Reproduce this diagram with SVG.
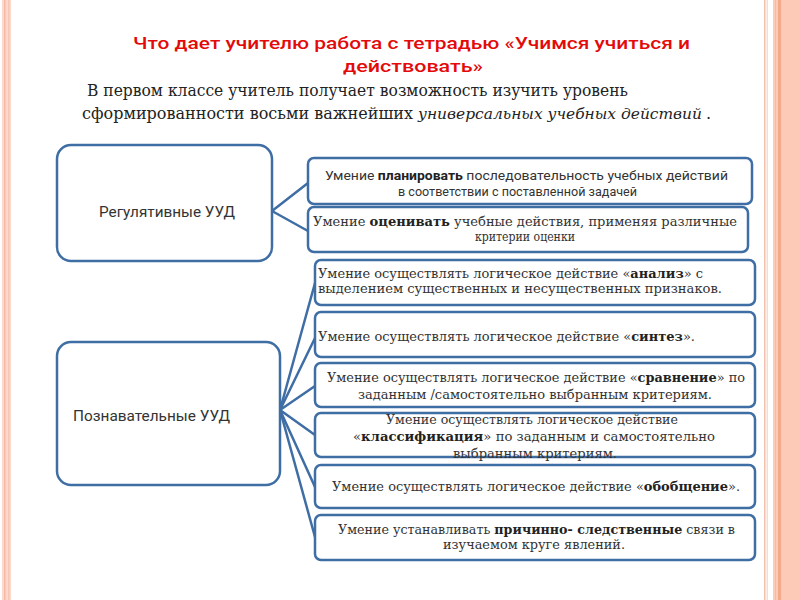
<svg xmlns="http://www.w3.org/2000/svg" width="800" height="600" viewBox="0 0 800 600">
<style>
.box{fill:#fff;stroke:#3f6ea5;stroke-width:2.5}
.big{fill:#fff;stroke:#3f6ea5;stroke-width:2.5}
.con line{stroke:#3f6ea5;stroke-width:2.5;stroke-linecap:round}
.sans{font-family:Roboto,"Noto Sans","DejaVu Sans",sans-serif;fill:#333}
.serif{font-family:"DejaVu Serif","Liberation Serif",serif;fill:#333;font-size:13px}
.b{font-weight:bold;fill:#222}
</style>
<rect width="800" height="600" fill="#fff"/>
<g id="border">
<rect x="2" y="0" width="9" height="600" fill="#fcd9cc"/>
<rect x="4" y="0" width="1.5" height="600" fill="#f6b9a3"/>
<rect x="8" y="0" width="1.5" height="600" fill="#f8c6b4"/>
<rect x="764" y="0" width="1.5" height="600" fill="#f3c0ae"/>
<rect x="766.5" y="0" width="1.5" height="600" fill="#fbdcd0"/>
<rect x="773" y="0" width="27" height="600" fill="#fdcab7"/>
<rect x="778" y="0" width="3" height="600" fill="#f5a98b"/>
<rect x="775" y="0" width="1" height="600" fill="#f8b9a1"/>
</g>
<g id="title" font-family="Roboto,'Noto Sans',sans-serif" font-size="17" font-weight="500" fill="#e30a0a" text-anchor="middle">
<text x="411.5" y="49" textLength="557" lengthAdjust="spacingAndGlyphs">Что дает учителю работа с тетрадью «Учимся учиться и</text>
<text x="413" y="72" textLength="140" lengthAdjust="spacingAndGlyphs">действовать»</text>
</g>
<g id="intro" font-family="'DejaVu Serif','Liberation Serif',serif" font-size="16" fill="#222">
<text x="87" y="96" textLength="541" lengthAdjust="spacingAndGlyphs">В первом классе учитель получает возможность изучить уровень</text>
<text x="82" y="119" textLength="331" lengthAdjust="spacingAndGlyphs">сформированности восьми важнейших</text>
<text x="418" y="119" font-size="15" font-style="italic" textLength="284" lengthAdjust="spacingAndGlyphs">универсальных учебных действий</text>
<text x="706" y="119">.</text>
</g>
<g class="con" id="connectors">
<line x1="272" y1="211" x2="308" y2="183"/>
<line x1="272" y1="211" x2="308" y2="231"/>
<line x1="280" y1="410" x2="315" y2="283"/>
<line x1="280" y1="410" x2="315" y2="338"/>
<line x1="280" y1="410" x2="315" y2="386"/>
<line x1="280" y1="410" x2="315" y2="435"/>
<line x1="280" y1="410" x2="315" y2="487"/>
<line x1="280" y1="410" x2="315" y2="537"/>
</g>
<g id="reg">
<rect class="big" x="57" y="145" width="215" height="116" rx="14"/>
<text class="sans" x="99" y="217" font-size="14" textLength="136" lengthAdjust="spacingAndGlyphs">Регулятивные УУД</text>
</g>
<g id="cog">
<rect class="big" x="57" y="342" width="223" height="143" rx="14"/>
<text class="sans" x="73" y="421" font-size="14" textLength="157" lengthAdjust="spacingAndGlyphs">Познавательные УУД</text>
</g>
<g id="plan">
<rect class="box" x="308" y="158" width="444" height="46" rx="6"/>
<text class="sans" x="526.5" y="180" font-size="13" text-anchor="middle" textLength="403" lengthAdjust="spacingAndGlyphs">Умение <tspan class="b">планировать</tspan> последовательность учебных действий</text>
<text class="sans" x="517.5" y="196" font-size="13" text-anchor="middle" textLength="239" lengthAdjust="spacingAndGlyphs">в соответствии с поставленной задачей</text>
</g>
<g id="eval">
<rect class="box" x="308" y="207" width="440" height="45" rx="6"/>
<text class="serif" x="525" y="226" text-anchor="middle" textLength="424" lengthAdjust="spacingAndGlyphs">Умение <tspan class="b">оценивать</tspan> учебные действия, применяя различные</text>
<text class="serif" x="525" y="241" text-anchor="middle" textLength="100" lengthAdjust="spacingAndGlyphs">критерии оценки</text>
</g>
<g id="analysis">
<rect class="box" x="315" y="260" width="440" height="45" rx="6"/>
<text class="serif" x="318" y="278" textLength="385" lengthAdjust="spacingAndGlyphs">Умение осуществлять логическое действие «<tspan class="b">анализ</tspan>» с</text>
<text class="serif" x="318" y="293" textLength="404" lengthAdjust="spacingAndGlyphs">выделением существенных и несущественных признаков.</text>
</g>
<g id="synthesis">
<rect class="box" x="315" y="312" width="440" height="45" rx="6"/>
<text class="serif" x="318" y="341" textLength="377" lengthAdjust="spacingAndGlyphs">Умение осуществлять логическое действие «<tspan class="b">синтез</tspan>».</text>
</g>
<g id="compare">
<rect class="box" x="315" y="363" width="440" height="44" rx="6"/>
<text class="serif" x="536" y="382" text-anchor="middle" textLength="418" lengthAdjust="spacingAndGlyphs">Умение осуществлять логическое действие «<tspan class="b">сравнение</tspan>» по</text>
<text class="serif" x="535" y="399" text-anchor="middle" textLength="354" lengthAdjust="spacingAndGlyphs">заданным /самостоятельно выбранным критериям.</text>
</g>
<g id="classify">
<rect class="box" x="315" y="413" width="440" height="44" rx="6"/>
<text class="serif" x="532" y="424" text-anchor="middle" textLength="292" lengthAdjust="spacingAndGlyphs">Умение осуществлять логическое действие</text>
<text class="serif" x="534" y="441" text-anchor="middle" textLength="362" lengthAdjust="spacingAndGlyphs">«<tspan class="b">классификация</tspan>» по заданным и самостоятельно</text>
<text class="serif" x="535" y="458" text-anchor="middle" textLength="164" lengthAdjust="spacingAndGlyphs">выбранным критериям.</text>
</g>
<g id="generalize">
<rect class="box" x="315" y="465" width="440" height="43" rx="6"/>
<text class="serif" x="536" y="491" text-anchor="middle" textLength="408" lengthAdjust="spacingAndGlyphs">Умение осуществлять логическое действие «<tspan class="b">обобщение</tspan>».</text>
</g>
<g id="causal">
<rect class="box" x="315" y="515" width="440" height="45" rx="6"/>
<text class="serif" x="536.5" y="534" text-anchor="middle" textLength="397" lengthAdjust="spacingAndGlyphs">Умение устанавливать <tspan class="b">причинно- следственные</tspan> связи в</text>
<text class="serif" x="534" y="549" text-anchor="middle" textLength="182" lengthAdjust="spacingAndGlyphs">изучаемом круге явлений.</text>
</g>
</svg>
